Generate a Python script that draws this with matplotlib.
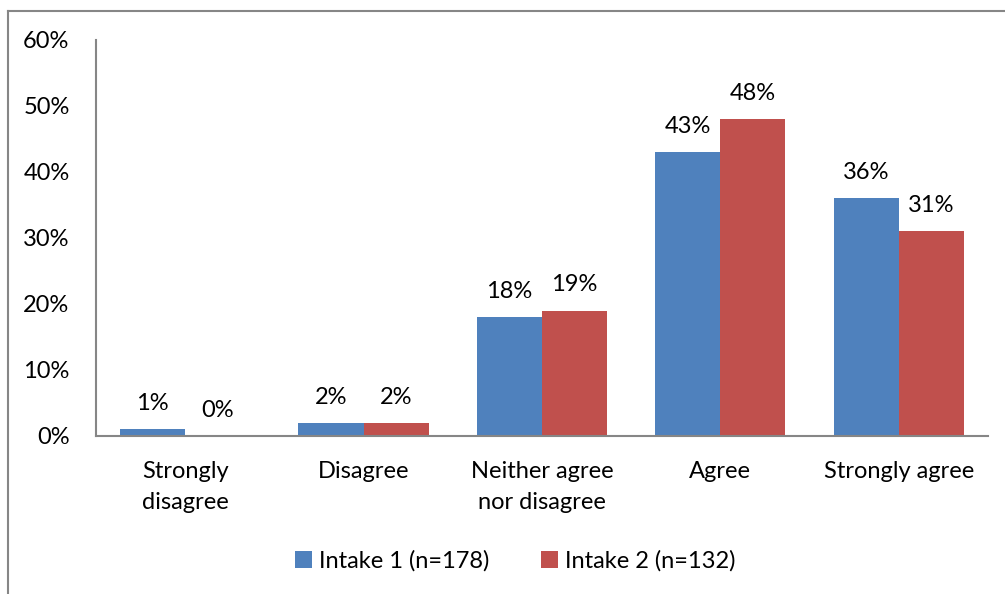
import numpy as np
import matplotlib
matplotlib.use("Agg")
from matplotlib import pyplot as plt
from matplotlib.lines import Line2D

categories = ["Strongly\ndisagree", "Disagree", "Neither agree\nnor disagree", "Agree", "Strongly agree"]
intake1 = [1, 2, 18, 43, 36]
intake2 = [0, 2, 19, 48, 31]
series_names = ["Intake 1 (n=178)", "Intake 2 (n=132)"]
yticks = [0, 10, 20, 30, 40, 50, 60]

plt.rcParams['font.family'] = ['Lato', 'DejaVu Sans']

fig = plt.figure(figsize=(10.05, 5.94), dpi=100)
ax = fig.add_axes([0.0955, 0.266, 0.8875, 0.667])

x = np.arange(len(categories))
w = 0.365
b1 = ax.bar(x - w / 2, intake1, w, color="#4F81BD", label=series_names[0])
b2 = ax.bar(x + w / 2, intake2, w, color="#C0504D", label=series_names[1])

for bars, vals in [(b1, intake1), (b2, intake2)]:
    for rect, v in zip(bars, vals):
        ax.text(rect.get_x() + rect.get_width() / 2, v + 2.3, "%d%%" % v,
                ha="center", va="bottom", fontsize=17, color="#000000")

ax.set_xlim(-0.5, len(categories) - 0.5)
ax.set_ylim(0, 60)
ax.set_yticks(yticks)
ax.set_yticklabels(["%d%%" % t for t in yticks], fontsize=17)
ax.set_xticks(x)
ax.set_xticklabels(categories, fontsize=17, linespacing=1.6)
ax.tick_params(axis="y", length=0, pad=19)
ax.tick_params(axis="x", length=0, pad=18)
for s in ["top", "right"]:
    ax.spines[s].set_visible(False)
for s in ["left", "bottom"]:
    ax.spines[s].set_color("#868686")
    ax.spines[s].set_linewidth(1.5)

ax.legend(loc="center", bbox_to_anchor=(0.47, -0.315), ncol=2, frameon=False,
          fontsize=17, handlelength=0.7, handleheight=0.7, handletextpad=0.3,
          columnspacing=2.2)

fig.add_artist(Line2D([8 / 1005, 8 / 1005], [0, 1 - 10.5 / 594], color="#868686", lw=1.5))
fig.add_artist(Line2D([8 / 1005, 1], [1 - 10.5 / 594, 1 - 10.5 / 594], color="#868686", lw=1.5))

fig.savefig("out.png", dpi=100)
